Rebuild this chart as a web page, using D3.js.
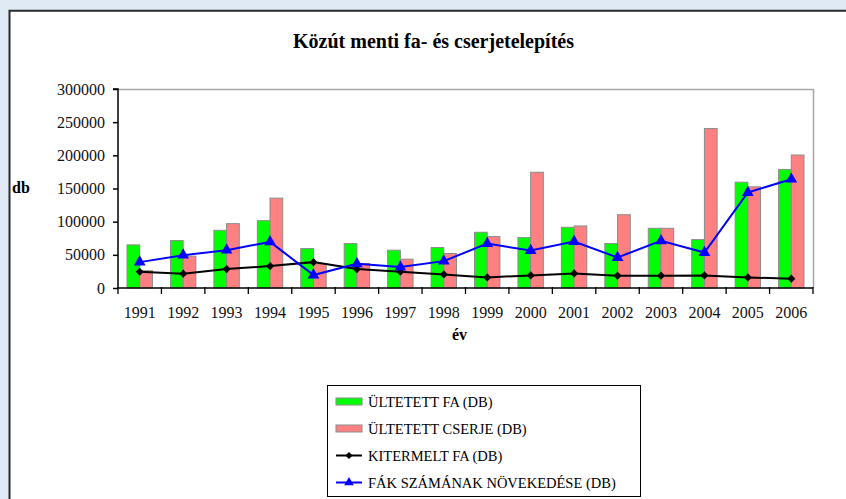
<!DOCTYPE html>
<html>
<head>
<meta charset="utf-8">
<script src="https://cdn.jsdelivr.net/npm/d3@7"></script>
<style>
  html, body { margin: 0; padding: 0; }
  body { width: 846px; height: 499px; overflow: hidden; background: #dfeaf4; }
</style>
</head>
<body>
<div id="chart"></div>
<script>
// data
const years = ["1991","1992","1993","1994","1995","1996","1997","1998","1999","2000","2001","2002","2003","2004","2005","2006"]
const ultetettFa = [65000,71500,87000,101500,59500,67000,57000,61000,84000,76000,91500,67000,90000,73000,159500,178500]
const ultetettCserje = [26000,48000,97000,135500,36500,37000,43500,52000,77500,174500,93500,110500,90000,240500,152500,200500]
const kitermeltFa = [24500,21500,28500,33000,39000,28500,24500,20500,16000,19000,22000,18500,18500,19000,16000,14000]
const novekedes = [39000,49500,57000,69500,19500,36500,31500,40500,67000,56500,70000,46000,71000,53500,144000,164000]
const yTicks = [0,50000,100000,150000,200000,250000,300000]

const W = 846, H = 499
const plot = { left: 118, right: 813, top: 89, bottom: 288 }
// plain font only: letter-spacing / textLength make the renderer drop it
const serif = "Liberation Serif"

const svg = d3.select("#chart").append("svg")
    .attr("width", W)
    .attr("height", H)
    .attr("font-family", serif)

// white panel with dark top/left edge
svg.append("rect")
    .attr("x", 9).attr("y", 11)
    .attr("width", W).attr("height", H)
    .style("fill", "#fff")
svg.append("path")
    .attr("d", `M9.5,${H} V10.8 H${W}`)
    .style("fill", "none")
    .style("stroke", "#2b2b2b")
    .style("stroke-width", 2)

// scales
const x = d3.scaleBand()
    .domain(years)
    .range([plot.left, plot.right])

const series = ["fa", "cserje"]
const barW = 12.7
const xs = d3.scaleBand()
    .domain(series)
    .range([x.bandwidth() / 2 - barW, x.bandwidth() / 2 + barW])

const y = d3.scaleLinear()
    .domain([0, 300000])
    .range([plot.bottom, plot.top])

// title
svg.append("text")
    .text("Közút menti fa- és cserjetelepítés")
    .attr("x", 433.5)
    .attr("y", 48)
    .attr("font-family", serif)
    .attr("font-size", 20)
    .attr("font-weight", "bold")
    .attr("text-anchor", "middle")

// plot frame (gray top + right)
svg.append("path")
    .attr("d", `M${plot.left},${plot.top + 0.5} H${plot.right + 0.5} V${plot.bottom}`)
    .style("fill", "none")
    .style("stroke", "#a6a6a6")
    .style("stroke-width", 1.5)

// bars
const barData = years.map((yr, i) => ({ year: yr, fa: ultetettFa[i], cserje: ultetettCserje[i] }))
const colors = { fa: "#00ff00", cserje: "#ff8080" }

svg.selectAll("g.year")
    .data(barData)
    .enter()
    .append("g")
    .attr("class", "year")
    .attr("transform", d => `translate(${x(d.year)},0)`)
    .selectAll("rect")
    .data(d => series.map(k => ({ key: k, value: d[k] })))
    .enter()
    .append("rect")
    .attr("x", d => xs(d.key))
    .attr("y", d => y(d.value))
    .attr("width", xs.bandwidth())
    .attr("height", d => y(0) - y(d.value))
    .style("fill", d => colors[d.key])
    .style("stroke", "#8c8c8c")
    .style("stroke-width", 1)

// axes
const yAxis = d3.axisLeft(y)
    .tickValues(yTicks)
    .tickSize(5)
    .tickPadding(8)
    .tickFormat(d3.format("d"))

svg.append("g")
    .attr("class", "y-axis")
    .attr("transform", `translate(${plot.left},0)`)
    .call(yAxis)
    .attr("font-family", serif)
    .attr("font-size", 16)
    .call(g => g.select(".domain").attr("d", `M-5,${plot.top}H0V${plot.bottom}`))
    .call(g => g.selectAll("line, path").style("stroke", "#000").style("stroke-width", 1.5))
    .call(g => g.selectAll("text").attr("font-family", serif).style("fill", "#111"))

const xAxis = d3.axisBottom(x)
    .tickSize(0)
    .tickPadding(19)

svg.append("g")
    .attr("class", "x-axis")
    .attr("transform", `translate(0,${plot.bottom})`)
    .call(xAxis)
    .attr("font-family", serif)
    .attr("font-size", 16)
    .call(g => g.select(".domain").attr("d", `M${plot.left},0H${plot.right}`)
        .style("stroke", "#000").style("stroke-width", 1.5))
    .call(g => g.selectAll("text").attr("font-family", serif).style("fill", "#111"))

// category boundary ticks
const bounds = years.map(d => x(d)).concat([plot.right])
svg.selectAll("line.xtick")
    .data(bounds)
    .enter()
    .append("line")
    .attr("class", "xtick")
    .attr("x1", d => d).attr("x2", d => d)
    .attr("y1", plot.bottom - 1).attr("y2", plot.bottom + 6)
    .style("stroke", "#000")
    .style("stroke-width", 1.3)

// lines
const lineSeries = [
    { name: "kitermelt", values: kitermeltFa, color: "#000", symbol: d3.symbolSquare, size: 34, rot: 45 },
    { name: "novekedes", values: novekedes, color: "#0000ff", symbol: d3.symbolTriangle, size: 60, rot: 0 }
]
const line = d3.line()
    .x(d => x(d.year) + x.bandwidth() / 2)
    .y(d => y(d.value))

lineSeries.forEach(s => {
    const pts = years.map((yr, i) => ({ year: yr, value: s.values[i] }))
    svg.append("path")
        .datum(pts)
        .attr("d", line)
        .style("fill", "none")
        .style("stroke", s.color)
        .style("stroke-width", 2)
    svg.selectAll("path.m-" + s.name)
        .data(pts)
        .enter()
        .append("path")
        .attr("class", "m-" + s.name)
        .attr("d", d3.symbol().type(s.symbol).size(s.size))
        .attr("transform", d => `translate(${x(d.year) + x.bandwidth() / 2},${y(d.value)}) rotate(${s.rot})`)
        .style("fill", s.color)
})

// axis titles
svg.append("text")
    .text("db")
    .attr("x", 12)
    .attr("y", 193)
    .attr("font-family", serif)
    .attr("font-size", 16)
    .attr("font-weight", "bold")

svg.append("text")
    .text("év")
    .attr("x", 459.5)
    .attr("y", 340)
    .attr("font-family", serif)
    .attr("font-size", 16)
    .attr("font-weight", "bold")
    .attr("text-anchor", "middle")

// legend
const legendItems = [
    { label: "ÜLTETETT FA (DB)", type: "bar", color: "#00ff00" },
    { label: "ÜLTETETT CSERJE (DB)", type: "bar", color: "#ff8080" },
    { label: "KITERMELT FA (DB)", type: "line", color: "#000", symbol: d3.symbolSquare, size: 26, rot: 45 },
    { label: "FÁK SZÁMÁNAK NÖVEKEDÉSE (DB)", type: "line", color: "#0000ff", symbol: d3.symbolTriangle, size: 40, rot: 0 }
]

const legend = svg.append("g")
legend.append("rect")
    .attr("x", 327.5).attr("y", 385.5)
    .attr("width", 313).attr("height", 111)
    .style("fill", "#fff")
    .style("stroke", "#000")
    .style("stroke-width", 1)

const rows = legend.selectAll("g.item")
    .data(legendItems)
    .enter()
    .append("g")
    .attr("class", "item")
    .attr("transform", (d, i) => `translate(336,${401.5 + i * 27})`)

rows.filter(d => d.type === "bar")
    .append("rect")
    .attr("x", 0).attr("y", -3.5)
    .attr("width", 26).attr("height", 7)
    .style("fill", d => d.color)
    .style("stroke", "#8c8c8c")

rows.filter(d => d.type === "line")
    .append("line")
    .attr("x1", 0).attr("x2", 26)
    .attr("y1", 0).attr("y2", 0)
    .style("stroke", d => d.color)
    .style("stroke-width", 2)

rows.filter(d => d.type === "line")
    .append("path")
    .attr("d", d => d3.symbol().type(d.symbol).size(d.size)())
    .attr("transform", d => `translate(13,0) rotate(${d.rot})`)
    .style("fill", d => d.color)

rows.append("text")
    .text(d => d.label)
    .attr("x", 32)
    .attr("y", 5.5)
    .attr("font-family", serif)
    .attr("font-size", 14.5)
</script>
</body>
</html>
